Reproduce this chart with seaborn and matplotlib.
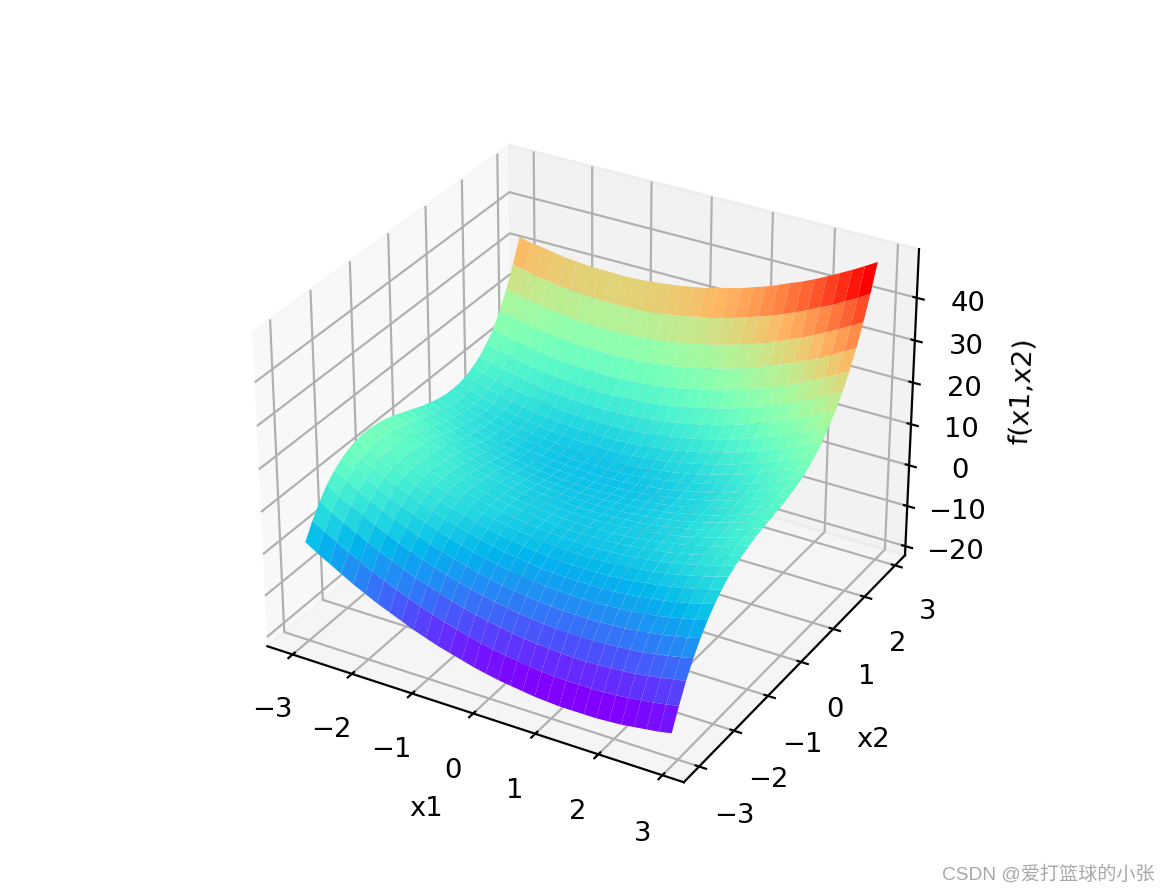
# surface of f(x1,x2)
import numpy as np
import seaborn as sns
import matplotlib
matplotlib.use('Agg')
import matplotlib.pyplot as plt
from matplotlib.colors import PowerNorm

plt.rcParams['axes3d.automargin'] = True

x1_values = [-3.0, -2.803, -2.607, -2.41, -2.213, -2.017, -1.82, -1.623, -1.427, -1.23, -1.033, -0.837, -0.64, -0.443, -0.247, -0.05,
             0.147, 0.343, 0.54, 0.737, 0.933, 1.13, 1.327, 1.523, 1.72, 1.917, 2.113, 2.31, 2.507, 2.703, 2.9]
x2_values = list(x1_values)
z_ticks = [-20, -10, 0, 10, 20, 30, 40]

# one row per x2 value, x1 runs left to right
z_values = [
    [1.5, -.3, -1.9, -3.5, -5.1, -6.5, -7.9, -9.1, -10.3, -11.5, -12.5, -13.5, -14.3, -15.1, -15.9, -16.5, -17.1, -17.5, -17.9, -18.3, -18.5, -18.7, -18.7, -18.7, -18.7, -18.5, -18.3, -17.9, -17.5, -17.1, -16.5],
    [5.1, 3.4, 1.8, .2, -1.3, -2.7, -4, -5.2, -6.4, -7.5, -8.5, -9.4, -10.2, -11, -11.7, -12.3, -12.8, -13.2, -13.6, -13.9, -14.1, -14.2, -14.2, -14.2, -14.1, -13.9, -13.6, -13.2, -12.8, -12.3, -11.7],
    [8.2, 6.5, 4.9, 3.4, 2, .6, -.7, -1.9, -3, -4, -5, -5.9, -6.7, -7.4, -8, -8.6, -9.1, -9.5, -9.8, -10, -10.2, -10.3, -10.3, -10.2, -10, -9.8, -9.5, -9.1, -8.6, -8, -7.4],
    [10.7, 9, 7.5, 6, 4.6, 3.3, 2, .9, -.2, -1.2, -2.1, -3, -3.7, -4.4, -5, -5.5, -6, -6.3, -6.6, -6.8, -6.9, -7, -6.9, -6.8, -6.6, -6.3, -6, -5.5, -5, -4.4, -3.7],
    [12.6, 11, 9.4, 8, 6.6, 5.4, 4.2, 3, 2, 1, .2, -.6, -1.4, -2, -2.6, -3, -3.4, -3.8, -4, -4.2, -4.2, -4.2, -4.2, -4, -3.8, -3.4, -3, -2.6, -2, -1.4, -.6],
    [14, 12.4, 11, 9.6, 8.2, 7, 5.8, 4.8, 3.8, 2.8, 2, 1.2, .6, 0, -.6, -1, -1.4, -1.6, -1.8, -2, -2, -2, -1.8, -1.6, -1.4, -1, -.6, 0, .6, 1.2, 2],
    [15, 13.4, 12, 10.6, 9.4, 8.2, 7, 6, 5, 4.2, 3.4, 2.6, 2, 1.4, 1, .6, .2, 0, -.2, -.2, -.2, -.2, 0, .2, .6, 1, 1.4, 2, 2.6, 3.4, 4.2],
    [15.6, 14.1, 12.7, 11.4, 10.2, 9, 7.9, 6.9, 6, 5.2, 4.4, 3.7, 3.1, 2.6, 2.2, 1.8, 1.5, 1.3, 1.2, 1.2, 1.2, 1.3, 1.5, 1.8, 2.2, 2.6, 3.1, 3.7, 4.4, 5.2, 6],
    [15.9, 14.4, 13.1, 11.8, 10.6, 9.5, 8.4, 7.5, 6.6, 5.8, 5.1, 4.4, 3.9, 3.4, 3, 2.7, 2.4, 2.3, 2.2, 2.2, 2.3, 2.4, 2.7, 3, 3.4, 3.9, 4.4, 5.1, 5.8, 6.6, 7.5],
    [15.8, 14.4, 13.1, 11.8, 10.7, 9.6, 8.6, 7.7, 6.8, 6.1, 5.4, 4.8, 4.3, 3.8, 3.5, 3.2, 3, 2.9, 2.8, 2.9, 3, 3.2, 3.5, 3.8, 4.3, 4.8, 5.4, 6.1, 6.8, 7.7, 8.6],
    [15.5, 14.1, 12.9, 11.7, 10.5, 9.5, 8.5, 7.7, 6.9, 6.1, 5.5, 4.9, 4.5, 4.1, 3.7, 3.5, 3.3, 3.3, 3.3, 3.3, 3.5, 3.7, 4.1, 4.5, 4.9, 5.5, 6.1, 6.9, 7.7, 8.5, 9.5],
    [15, 13.7, 12.4, 11.3, 10.2, 9.2, 8.3, 7.4, 6.7, 6, 5.4, 4.9, 4.4, 4.1, 3.8, 3.6, 3.5, 3.4, 3.5, 3.6, 3.8, 4.1, 4.4, 4.9, 5.4, 6, 6.7, 7.4, 8.3, 9.2, 10.2],
    [14.4, 13.1, 11.9, 10.8, 9.7, 8.8, 7.9, 7.1, 6.4, 5.7, 5.2, 4.7, 4.3, 4, 3.7, 3.6, 3.5, 3.5, 3.6, 3.7, 4, 4.3, 4.7, 5.2, 5.7, 6.4, 7.1, 7.9, 8.8, 9.7, 10.8],
    [13.6, 12.4, 11.2, 10.2, 9.2, 8.2, 7.4, 6.6, 6, 5.4, 4.8, 4.4, 4, 3.8, 3.6, 3.4, 3.4, 3.4, 3.6, 3.8, 4, 4.4, 4.8, 5.4, 6, 6.6, 7.4, 8.2, 9.2, 10.2, 11.2],
    [12.8, 11.6, 10.5, 9.4, 8.5, 7.6, 6.8, 6.1, 5.4, 4.9, 4.4, 4, 3.7, 3.4, 3.3, 3.2, 3.2, 3.3, 3.4, 3.7, 4, 4.4, 4.9, 5.4, 6.1, 6.8, 7.6, 8.5, 9.4, 10.5, 11.6],
    [12, 10.8, 9.8, 8.8, 7.8, 7, 6.2, 5.6, 5, 4.4, 4, 3.6, 3.4, 3.2, 3, 3, 3, 3.2, 3.4, 3.6, 4, 4.4, 5, 5.6, 6.2, 7, 7.8, 8.8, 9.8, 10.8, 12],
    [11.2, 10.1, 9, 8.1, 7.2, 6.4, 5.7, 5, 4.5, 4, 3.6, 3.3, 3, 2.9, 2.8, 2.8, 2.9, 3, 3.3, 3.6, 4, 4.5, 5, 5.7, 6.4, 7.2, 8.1, 9, 10.1, 11.2, 12.4],
    [10.6, 9.5, 8.5, 7.6, 6.7, 6, 5.3, 4.7, 4.2, 3.7, 3.4, 3.1, 2.9, 2.8, 2.7, 2.8, 2.9, 3.1, 3.4, 3.7, 4.2, 4.7, 5.3, 6, 6.7, 7.6, 8.5, 9.5, 10.6, 11.7, 13],
    [10, 9, 8, 7.1, 6.3, 5.6, 5, 4.4, 3.9, 3.5, 3.2, 3, 2.8, 2.7, 2.7, 2.8, 3, 3.2, 3.5, 3.9, 4.4, 5, 5.6, 6.3, 7.1, 8, 9, 10, 11.1, 12.3, 13.6],
    [9.6, 8.6, 7.7, 6.9, 6.1, 5.4, 4.8, 4.3, 3.9, 3.5, 3.2, 3, 2.9, 2.9, 2.9, 3, 3.2, 3.5, 3.9, 4.3, 4.8, 5.4, 6.1, 6.9, 7.7, 8.6, 9.6, 10.7, 11.9, 13.1, 14.4],
    [9.5, 8.5, 7.7, 6.9, 6.1, 5.5, 4.9, 4.5, 4.1, 3.7, 3.5, 3.3, 3.3, 3.3, 3.3, 3.5, 3.7, 4.1, 4.5, 4.9, 5.5, 6.1, 6.9, 7.7, 8.5, 9.5, 10.5, 11.7, 12.9, 14.1, 15.5],
    [9.6, 8.7, 7.9, 7.1, 6.4, 5.8, 5.3, 4.9, 4.5, 4.2, 4, 3.9, 3.9, 3.9, 4, 4.2, 4.5, 4.9, 5.3, 5.8, 6.4, 7.1, 7.9, 8.7, 9.6, 10.6, 11.7, 12.9, 14.1, 15.4, 16.8],
    [10.1, 9.3, 8.5, 7.7, 7.1, 6.5, 6.1, 5.7, 5.3, 5.1, 4.9, 4.9, 4.9, 4.9, 5.1, 5.3, 5.7, 6.1, 6.5, 7.1, 7.7, 8.5, 9.3, 10.1, 11.1, 12.1, 13.3, 14.5, 15.7, 17.1, 18.5],
    [11, 10.2, 9.4, 8.7, 8.1, 7.6, 7.2, 6.8, 6.5, 6.3, 6.2, 6.2, 6.2, 6.3, 6.5, 6.8, 7.2, 7.6, 8.1, 8.7, 9.4, 10.2, 11, 11.9, 12.9, 14, 15.2, 16.4, 17.7, 19.1, 20.6],
    [12.2, 11.4, 10.7, 10.1, 9.5, 9, 8.6, 8.3, 8.1, 7.9, 7.8, 7.8, 7.9, 8.1, 8.3, 8.6, 9, 9.5, 10.1, 10.7, 11.4, 12.2, 13.1, 14.1, 15.1, 16.2, 17.4, 18.7, 20.1, 21.5, 23],
    [14, 13.2, 12.6, 12, 11.4, 11, 10.6, 10.4, 10.2, 10, 10, 10, 10.2, 10.4, 10.6, 11, 11.4, 12, 12.6, 13.2, 14, 14.8, 15.8, 16.8, 17.8, 19, 20.2, 21.6, 23, 24.4, 26],
    [16.2, 15.5, 14.9, 14.3, 13.8, 13.4, 13.1, 12.9, 12.7, 12.6, 12.6, 12.7, 12.9, 13.1, 13.4, 13.8, 14.3, 14.9, 15.5, 16.2, 17, 17.9, 18.9, 19.9, 21, 22.2, 23.5, 24.9, 26.3, 27.8, 29.4],
    [19.5, 18.8, 18.2, 17.7, 17.2, 16.8, 16.5, 16.3, 16.2, 16.2, 16.2, 16.3, 16.4, 16.7, 17.1, 17.5, 18, 18.6, 19.3, 20.1, 20.8, 21.7, 22.7, 23.8, 25, 26.1, 27.4, 28.8, 30.3, 31.9, 33.5],
    [23.4, 22.7, 22.1, 21.6, 21.2, 20.9, 20.5, 20.4, 20.3, 20.3, 20.3, 20.4, 20.7, 21, 21.3, 21.8, 22.3, 23, 23.6, 24.4, 25.3, 26.1, 27.2, 28.3, 29.5, 30.7, 32, 33.5, 35, 36.5, 38.2],
    [28.1, 27.5, 26.8, 26.4, 25.9, 25.7, 25.4, 25.2, 25.1, 25.1, 25.2, 25.4, 25.5, 25.9, 26.3, 26.8, 27.4, 27.9, 28.7, 29.4, 30.4, 31.3, 32.3, 33.4, 34.6, 35.9, 37.3, 38.6, 40.2, 41.7, 43.5],
    [33.5, 32.8, 32.4, 31.9, 31.4, 31.2, 30.9, 30.8, 30.8, 30.7, 30.8, 31, 31.3, 31.6, 32, 32.5, 33, 33.8, 34.5, 35.2, 36.2, 37.1, 38.2, 39.4, 40.5, 41.8, 43.2, 44.7, 46.2, 47.8, 49.5],
]

watermark = 'CSDN @爱打篮球的小张'

X1, X2 = np.meshgrid(x1_values, x2_values)
Z = np.array(z_values)

fig = plt.figure(figsize=(1170 / 197, 892 / 197), dpi=197)
ax = fig.add_axes([0.0795, 0.0706, 0.836, 0.831], projection='3d')
ax.plot_surface(X1, X2, Z, cmap=sns.color_palette('rainbow', as_cmap=True), norm=PowerNorm(1.1))
ax.set_zlim(-20.8, 49.8)
ax.set_zticks(z_ticks)
ax.set_xlabel('x1')
ax.set_ylabel('x2')
ax.set_zlabel('f(x1,x2)')

fig.text(0.987, 0.009, watermark, ha='right', va='bottom', fontsize=7.0, color='#a8a8a8',
         family=['Liberation Sans', 'Noto Sans CJK SC'])

fig.savefig('out.png')
